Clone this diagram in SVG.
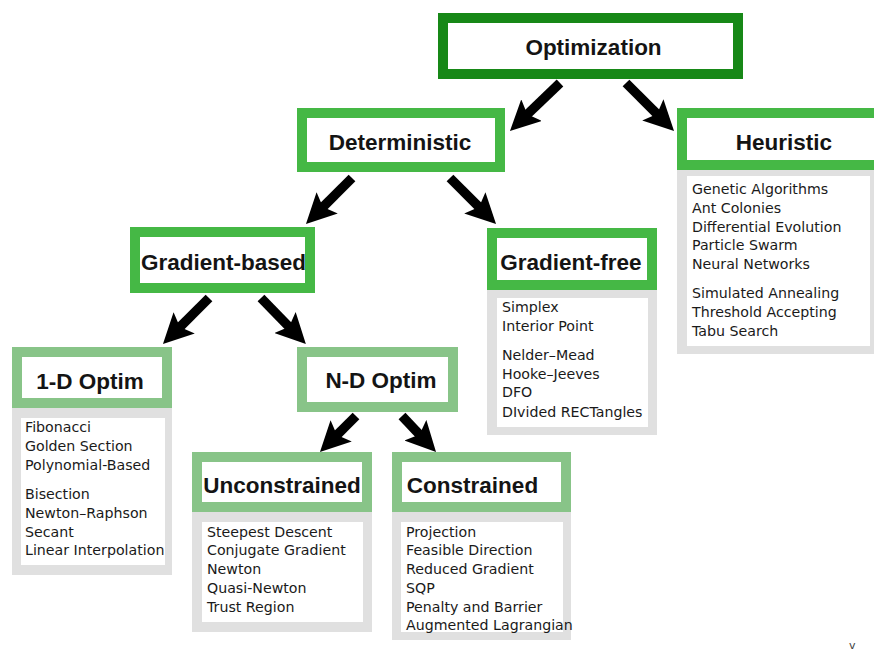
<svg xmlns="http://www.w3.org/2000/svg" width="874" height="664" viewBox="0 0 874 664">
<defs>
<marker id="ah" markerUnits="userSpaceOnUse" markerWidth="30" markerHeight="30" viewBox="0 0 30 30" refX="10" refY="15" orient="auto">
<path d="M0,0 L30,15 L0,30 L6,15 Z" fill="#000"/>
</marker>
<style>
.t{font-family:"Liberation Sans",Arial,sans-serif;font-weight:bold;font-size:22.5px;fill:#141414;text-anchor:middle}
.l{font-family:"DejaVu Sans","Liberation Sans",sans-serif;font-size:14.2px;fill:#1a1a1a}
.b0{fill:#fff;stroke:#178817;stroke-width:10}
.b1{fill:#fff;stroke:#45b845;stroke-width:10}
.b2{fill:#fff;stroke:#88c488;stroke-width:10}
.g{fill:#e0e0e0}
.w{fill:#fff}
.a{stroke:#000;stroke-width:9.5;fill:none;marker-end:url(#ah)}
</style>
</defs>
<rect width="874" height="664" fill="#fff"/>
<g id="connectors">
<line class="a" x1="560" y1="83" x2="524.4" y2="117.1"/>
<line class="a" x1="626" y1="83" x2="659.9" y2="116.9"/>
<line class="a" x1="352" y1="178" x2="320.1" y2="209.9"/>
<line class="a" x1="450" y1="178" x2="481.9" y2="209.9"/>
<line class="a" x1="209" y1="298" x2="177.1" y2="329.9"/>
<line class="a" x1="261" y1="298" x2="291.9" y2="329.7"/>
<line class="a" x1="356" y1="416" x2="334.1" y2="437.9"/>
<line class="a" x1="402" y1="416" x2="422.3" y2="437.5"/>
</g>
<g id="optimization">
<rect class="b0" x="443" y="18" width="295" height="56"/>
<text class="t" x="593.5" y="55">Optimization</text>
</g>
<g id="deterministic">
<rect class="b1" x="302" y="113" width="198" height="54"/>
<text class="t" x="400" y="150">Deterministic</text>
</g>
<g id="heuristic">
<rect class="g" x="677" y="168" width="200" height="186"/>
<rect class="w" x="687" y="176" width="183" height="170"/>
<rect class="b1" x="682" y="113" width="200" height="52"/>
<text class="t" x="784" y="150">Heuristic</text>
<text class="l"><tspan x="692" y="194">Genetic Algorithms</tspan><tspan x="692" y="213">Ant Colonies</tspan><tspan x="692" y="232">Differential Evolution</tspan><tspan x="692" y="250">Particle Swarm</tspan><tspan x="692" y="269">Neural Networks</tspan><tspan x="692" y="298">Simulated Annealing</tspan><tspan x="692" y="317">Threshold Accepting</tspan><tspan x="692" y="336">Tabu Search</tspan></text>
</g>
<g id="gradient-based">
<rect class="b1" x="135" y="232" width="175" height="56"/>
<text class="t" x="223.5" y="270">Gradient-based</text>
</g>
<g id="gradient-free">
<rect class="g" x="487" y="288" width="170" height="147"/>
<rect class="w" x="497" y="298" width="151" height="129"/>
<rect class="b1" x="492" y="233" width="160" height="52"/>
<text class="t" x="571" y="270">Gradient-free</text>
<text class="l"><tspan x="502" y="312">Simplex</tspan><tspan x="502" y="331">Interior Point</tspan><tspan x="502" y="360">Nelder–Mead</tspan><tspan x="502" y="379">Hooke–Jeeves</tspan><tspan x="502" y="397">DFO</tspan><tspan x="502" y="417">DIvided RECTangles</tspan></text>
</g>
<g id="one-d">
<rect class="g" x="12" y="406" width="160" height="169"/>
<rect class="w" x="21" y="418" width="144" height="147"/>
<rect class="b2" x="17" y="352" width="150" height="51"/>
<text class="t" x="90" y="389">1-D Optim</text>
<text class="l"><tspan x="25" y="432">Fibonacci</tspan><tspan x="25" y="451">Golden Section</tspan><tspan x="25" y="470">Polynomial-Based</tspan><tspan x="25" y="499">Bisection</tspan><tspan x="25" y="518">Newton–Raphson</tspan><tspan x="25" y="537">Secant</tspan><tspan x="25" y="555">Linear Interpolation</tspan></text>
</g>
<g id="n-d">
<rect class="b2" x="302" y="352" width="151" height="55"/>
<text class="t" x="381" y="388">N-D Optim</text>
</g>
<g id="unconstrained">
<rect class="g" x="192" y="510" width="180" height="122"/>
<rect class="w" x="202" y="522" width="161" height="100"/>
<rect class="b2" x="197" y="457" width="170" height="50"/>
<text class="t" x="282" y="493">Unconstrained</text>
<text class="l"><tspan x="207" y="537">Steepest Descent</tspan><tspan x="207" y="555">Conjugate Gradient</tspan><tspan x="207" y="574">Newton</tspan><tspan x="207" y="593">Quasi-Newton</tspan><tspan x="207" y="612">Trust Region</tspan></text>
</g>
<g id="constrained">
<rect class="g" x="392" y="510" width="179" height="130"/>
<rect class="w" x="401" y="522" width="162" height="110"/>
<rect class="b2" x="397" y="457" width="169" height="50"/>
<text class="t" x="472.5" y="493">Constrained</text>
<text class="l"><tspan x="406" y="537">Projection</tspan><tspan x="406" y="555">Feasible Direction</tspan><tspan x="406" y="574">Reduced Gradient</tspan><tspan x="406" y="593">SQP</tspan><tspan x="406" y="612">Penalty and Barrier</tspan><tspan x="406" y="630">Augmented Lagrangian</tspan></text>
</g>
<text x="849" y="649" style="font-family:'DejaVu Sans',sans-serif;font-size:11px;fill:#444">v</text>
</svg>
